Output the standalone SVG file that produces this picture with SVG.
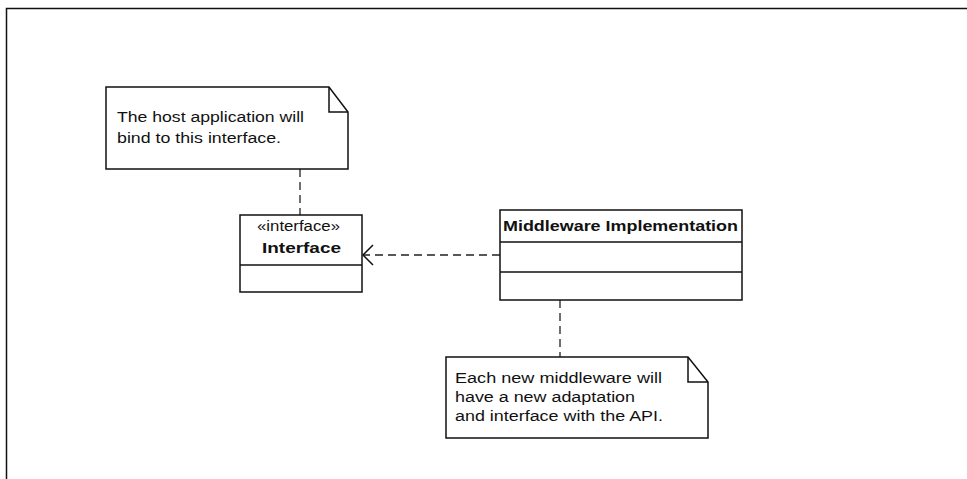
<svg xmlns="http://www.w3.org/2000/svg" width="967" height="479" viewBox="0 0 967 479">
<style>
.box{fill:#fff;stroke:#111;stroke-width:1.5}
.ln{fill:none;stroke:#111;stroke-width:1.5}
.dash{fill:none;stroke:#222;stroke-width:1.3;stroke-dasharray:8 5}
.t{font-family:"Liberation Sans",Arial,sans-serif;font-size:15.5px;fill:#111}
.b{font-weight:bold}
</style>
<rect width="967" height="479" fill="#fff"/>
<g id="frame">
<path class="ln" d="M6.5 479 V8.5 H967" stroke="#333" stroke-width="1.4"/>
</g>
<g id="connectors">
<path class="dash" d="M300 169 V215"/>
<path class="dash" d="M500 255 H364"/>
<path class="ln" d="M373 245 L363 255 L373 265" stroke-width="1.2"/>
<path class="dash" d="M560 300 V357"/>
</g>
<g id="note-host">
<path class="box" d="M106 87 H329 L348 112 V169 H106 Z"/>
<path class="ln" d="M329 87 V112 H348" stroke-width="1.2"/>
<text class="t" x="117" y="122" textLength="187" lengthAdjust="spacingAndGlyphs">The host application will</text>
<text class="t" x="117" y="143" textLength="164" lengthAdjust="spacingAndGlyphs">bind to this interface.</text>
</g>
<g id="interface">
<rect class="box" x="240" y="215" width="122" height="77"/>
<path class="ln" d="M240 265 H362"/>
<text class="t" x="257" y="231" font-size="14" textLength="83" lengthAdjust="spacingAndGlyphs">«interface»</text>
<text class="t b" x="262" y="253" textLength="79" lengthAdjust="spacingAndGlyphs">Interface</text>
</g>
<g id="middleware">
<rect class="box" x="500" y="210" width="242" height="90"/>
<path class="ln" d="M500 242 H742 M500 272 H742"/>
<text class="t b" x="503" y="231" textLength="235" lengthAdjust="spacingAndGlyphs">Middleware Implementation</text>
</g>
<g id="note-middleware">
<path class="box" d="M446 357 H688 L708 382 V438 H446 Z"/>
<path class="ln" d="M688 357 V382 H708" stroke-width="1.2"/>
<text class="t" x="455" y="383" textLength="207" lengthAdjust="spacingAndGlyphs">Each new middleware will</text>
<text class="t" x="455" y="402" textLength="180" lengthAdjust="spacingAndGlyphs">have a new adaptation</text>
<text class="t" x="455" y="421" textLength="208" lengthAdjust="spacingAndGlyphs">and interface with the API.</text>
</g>
</svg>
